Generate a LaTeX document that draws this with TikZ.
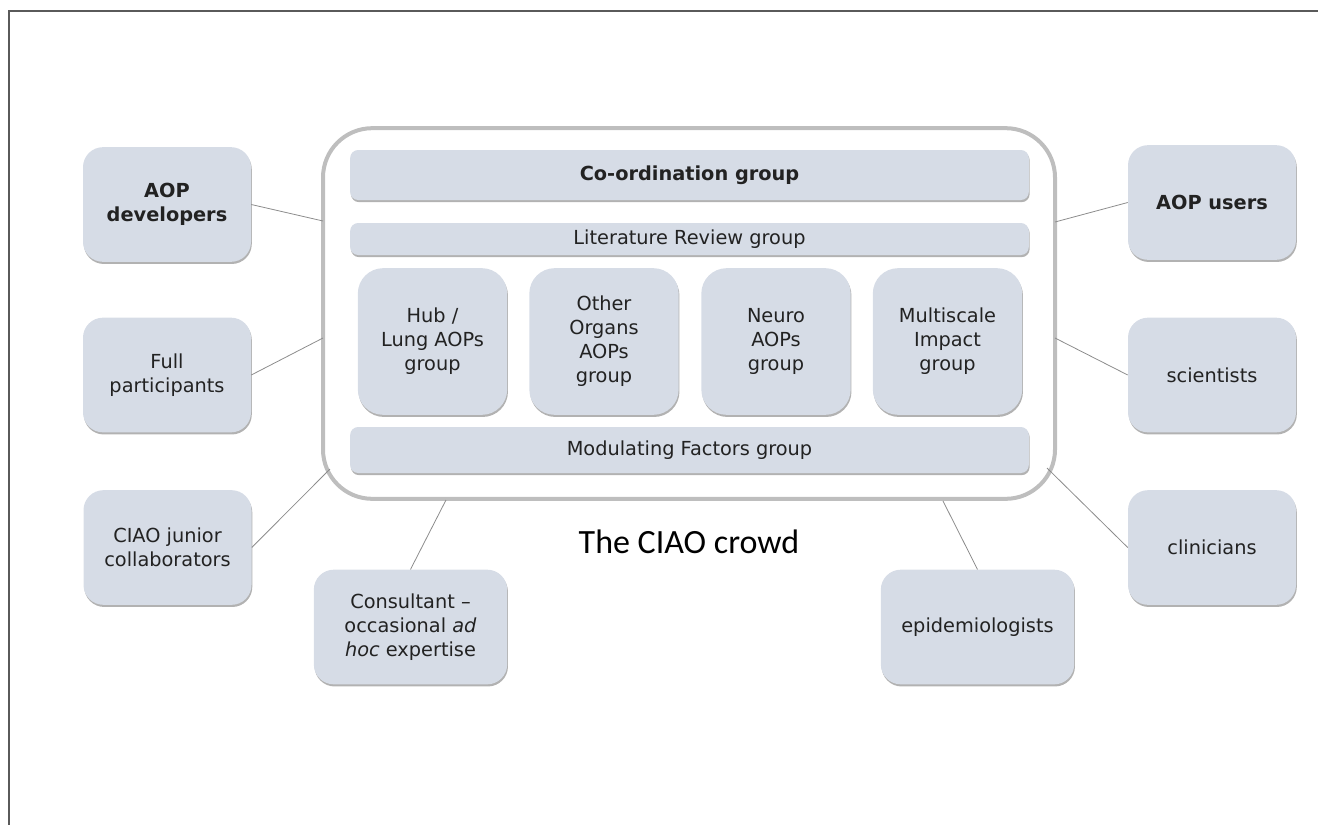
\documentclass[tikz,border=0pt]{standalone}
\usepackage{fontspec}
\setmainfont{DejaVu Sans}
\newfontfamily\calibri{Carlito}
\usetikzlibrary{shadows}

\begin{document}
\begin{tikzpicture}[x=0.75pt, y=-0.75pt,
  box/.style={fill=ciaoblue, text=ciaotext, align=center, inner sep=2pt,
    font=\fontsize{14.5}{18}\selectfont,
    drop shadow={shadow xshift=0.6pt, shadow yshift=-1.6pt, opacity=0.3, fill=black}},
  member/.style={box, minimum width=126pt, minimum height=86pt, rounded corners=15pt},
  widemember/.style={member, minimum width=145pt},
  bar/.style={box, minimum width=509pt, rounded corners=6pt},
  subgroup/.style={box, minimum width=112pt, minimum height=110pt, rounded corners=19pt},
  link/.style={draw=ciaoline, line width=0.6pt}]

% Define the colors
\definecolor{ciaoblue}{RGB}{214,220,230}
\definecolor{ciaotext}{RGB}{34,34,34}
\definecolor{ciaoline}{RGB}{140,140,140}
\definecolor{ciaoring}{RGB}{190,190,190}
\definecolor{ciaoframe}{RGB}{90,90,90}

\useasboundingbox (0,0) rectangle (1318,825);

% Draw the frame
\draw[ciaoframe, line width=1.5pt] (9,825) -- (9,11) -- (1318,11);

% Draw the crowd
\node[draw=ciaoring, line width=3pt, rounded corners=37pt,
  minimum width=549pt, minimum height=278pt] (crowd) at (689,313.5) {};
\node[font=\calibri\fontsize{25.5}{30}\selectfont] (crowdlabel) at (689,542) {The CIAO crowd};

% Draw the groups
\node[bar, minimum height=37.5pt, font=\fontsize{14.5}{18}\selectfont\bfseries] (coord) at (689.5,175) {Co-ordination group};
\node[bar, minimum height=24pt] (litreview) at (689.5,239) {Literature Review group};
\node[subgroup] (hub) at (432.5,341.5) {Hub /\\ Lung AOPs\\ group};
\node[subgroup] (organs) at (604,341.5) {Other\\ Organs\\ AOPs\\ group};
\node[subgroup] (neuro) at (776,341.5) {Neuro\\ AOPs\\ group};
\node[subgroup] (multiscale) at (947.5,341.5) {Multiscale\\ Impact\\ group};
\node[bar, minimum height=34.5pt] (modulating) at (689.5,450) {Modulating Factors group};

% Draw the members
\node[member, font=\fontsize{14.5}{18}\selectfont\bfseries] (developers) at (167,204.5) {AOP\\ developers};
\node[member] (participants) at (167,375) {Full\\ participants};
\node[member] (junior) at (167.5,547.5) {CIAO junior\\ collaborators};
\node[widemember] (consultant) at (410.5,627) {Consultant --\\ occasional \textit{ad}\\ \textit{hoc} expertise};
\node[member, font=\fontsize{14.5}{18}\selectfont\bfseries] (users) at (1212,202.5) {AOP users};
\node[member] (scientists) at (1212,375) {scientists};
\node[member] (clinicians) at (1212,547.5) {clinicians};
\node[widemember] (epidemiologists) at (977.5,627) {epidemiologists};

% Draw the links
\coordinate (devend) at (323,221);
\coordinate (partend) at (323,338);
\coordinate (juniorend) at (330,469);
\coordinate (consend) at (446,500);
\coordinate (epiend) at (943,501);
\coordinate (clinend) at (1047,468);
\coordinate (sciend) at (1055,338);
\coordinate (usersend) at (1055,222);

\draw[link] (developers.east) -- (devend);
\draw[link] (participants.east) -- (partend);
\draw[link] (junior.east) -- (juniorend);
\draw[link] (consultant.north) -- (consend);
\draw[link] (epidemiologists.north) -- (epiend);
\draw[link] (clinicians.west) -- (clinend);
\draw[link] (scientists.west) -- (sciend);
\draw[link] (users.west) -- (usersend);

\end{tikzpicture}
\end{document}
